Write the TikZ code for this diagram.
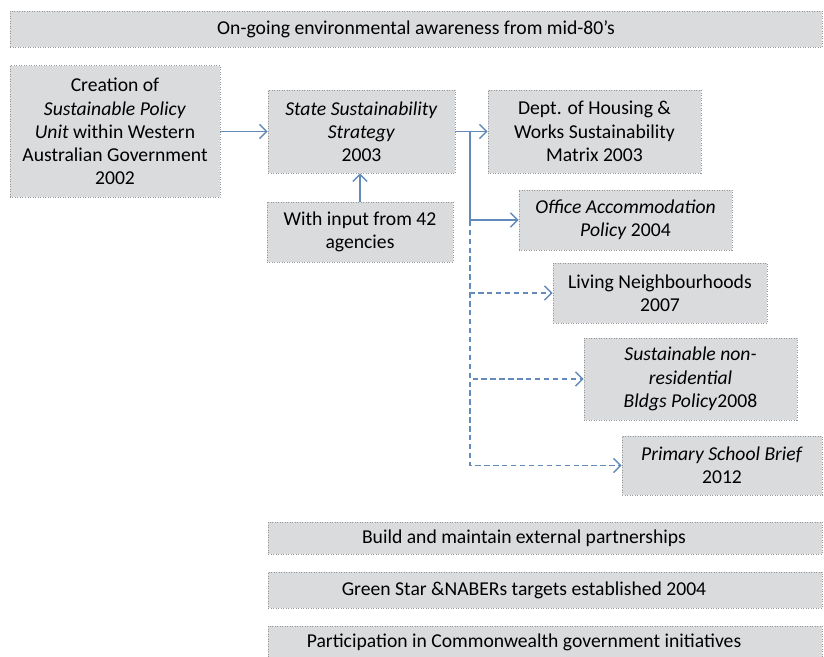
\documentclass[tikz,border=0pt]{standalone}
\usepackage{fontspec}
\setmainfont{Carlito}
\usepackage{tikz}
\usetikzlibrary{arrows.meta}
\definecolor{boxgray}{RGB}{218,219,221}
\definecolor{boxline}{RGB}{150,150,152}
\definecolor{linkblue}{RGB}{98,138,186}
\tikzset{
    box/.style={draw=boxline, densely dotted, fill=boxgray, align=center, inner sep=2pt,
        font=\fontsize{11pt}{13pt}\selectfont},
    plain/.style={align=center, inner sep=0pt, font=\fontsize{11pt}{13pt}\selectfont},
    link/.style={draw=linkblue, line width=0.8pt, -{Straight Barb[length=4pt,width=8pt]}},
    maybe/.style={link, dash pattern=on 3pt off 2pt}
}
\begin{document}
\begin{tikzpicture}[x=0.56pt,y=-0.56pt]
    \useasboundingbox (0,0) rectangle (824,657);
 %top bar
    \node[box, minimum width=454.7pt, minimum height=20.2pt] (aware) at (416,29)
        {On-going environmental awareness from mid-80’s};
 %left
    \node[box, minimum width=117.6pt, minimum height=73.9pt] (unit) at (115,131.5)
        {Creation of\\ \textit{Sustainable Policy}\\ \textit{Unit} within Western\\ Australian Government\\ 2002};
    \node[box, minimum width=104.7pt, minimum height=46.5pt] (strategy) at (361.5,131.5)
        {\textit{State Sustainability}\\ \textit{Strategy}\\ 2003};
    \node[box, minimum width=104.2pt, minimum height=33.6pt] (agencies) at (360,232)
        {With input from 42\\ agencies};
    \draw[link] (unit.east) -- (strategy.west);
    \draw[link] (agencies.north) -- (agencies.north |- strategy.south);
 %right
    \node[box, minimum width=119.3pt, minimum height=46.5pt] (matrix) at (594.5,131.5)
        {Dept. of Housing \&\\ Works Sustainability\\ Matrix 2003};
    \node[box, minimum width=119.3pt, minimum height=33.6pt] (office) at (625.5,220)
        {\textit{Office Accommodation}\\ \textit{Policy} 2004};
    \node[box, minimum width=119.8pt, minimum height=33.6pt] (living) at (660,293)
        {Living Neighbourhoods\\ 2007};
    \node[box, minimum width=119.3pt, minimum height=45.9pt] (nonres) at (690.5,379)
        {\textit{Sustainable non-}\\ \textit{residential}\\ \textit{Bldgs Policy}2008};
    \node[box, minimum width=112pt, minimum height=33pt] (school) at (722,465.5)
        {\textit{Primary School Brief}\\ 2012};
    \coordinate (split) at (470,131.5);
    \draw[link] (strategy.east) -- (matrix.west);
    \draw[link] (split) |- (office.west);
    \draw[maybe] (split) |- (living.west);
    \draw[maybe] (split) |- (nonres.west);
    \draw[maybe] (split) |- (school.west);
 %bottom bars
    \node[box, minimum width=310.2pt, minimum height=17.9pt] (partners) at (545,538) {};
    \node[plain] (partnerstext) at (524,538) {Build and maintain external partnerships};
    \node[box, minimum width=310.2pt, minimum height=20.2pt] (targets) at (545,590) {};
    \node[plain] (targetstext) at (524,590) {Green Star \&NABERs targets established 2004};
    \node[box, minimum width=310.2pt, minimum height=17.9pt] (commonwealth) at (545,642) {};
    \node[plain] (commonwealthtext) at (524,642) {Participation in Commonwealth government initiatives};
\end{tikzpicture}
\end{document}
